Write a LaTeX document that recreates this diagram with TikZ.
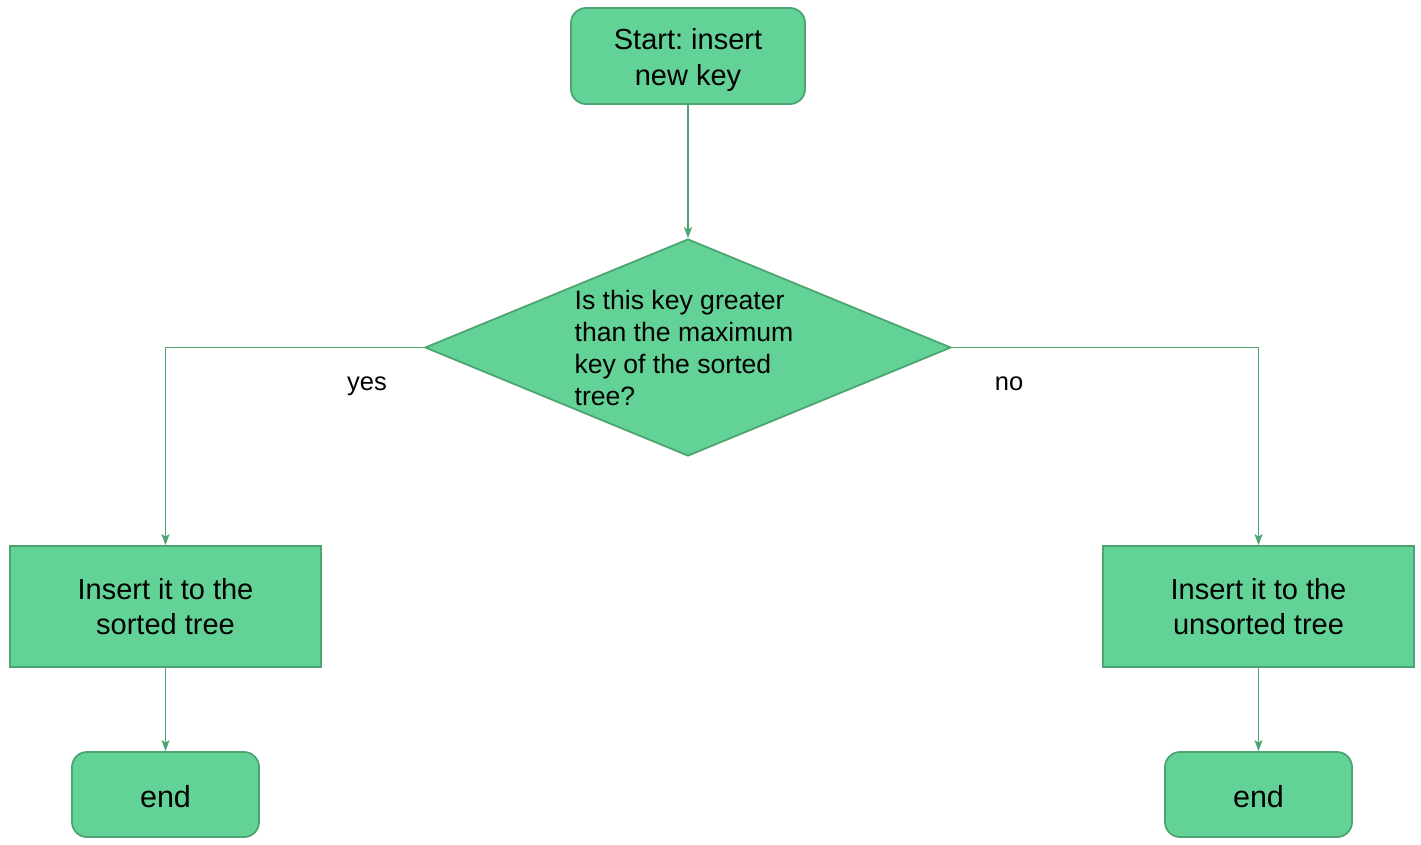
\documentclass[tikz,border=0pt]{standalone}
\usepackage{fontspec}
\setmainfont{Liberation Sans}
\frenchspacing
\usetikzlibrary{shapes.geometric,arrows.meta}
\definecolor{boxfill}{RGB}{99,210,151}
\definecolor{boxline}{RGB}{76,165,113}
\begin{document}
\begin{tikzpicture}[x=1pt,y=-1pt,
  basebox/.style={draw=boxline, fill=boxfill, line width=1.8pt, align=center, inner sep=0pt, font=\fontsize{29}{35.5}\selectfont},
  termbox/.style={basebox, rounded corners=15pt},
  procbox/.style={basebox, minimum width=311pt, minimum height=121pt},
  endbox/.style={termbox, minimum width=187pt, minimum height=85pt},
  boxtext/.style={align=center, inner sep=0pt, font=\fontsize{29}{35.5}\selectfont},
  decision/.style={diamond, draw=boxline, fill=boxfill, line width=1.8pt, inner sep=0pt, minimum width=526pt, minimum height=217pt},
  qtext/.style={align=left, inner sep=0pt, font=\fontsize{26.6}{32}\selectfont},
  lbl/.style={inner sep=0pt, anchor=base, font=\fontsize{25.5}{30}\selectfont},
  conn/.style={draw=boxline, line width=1.6pt, -{Stealth[length=11pt,width=8pt,inset=2.5pt]}}
]
\useasboundingbox (0,0) rectangle (1421,844);
\node[termbox, minimum width=234pt, minimum height=96pt] (start) at (688,56) {};
\node[boxtext] (starttxt) at (688,60) {Start: insert\\new key};
\node[decision] (q) at (688,347.5) {};
\node[qtext] (qt) at (684,348) {Is this key greater\\than the maximum\\key of the sorted\\tree?};
\node[procbox] (sorted) at (165.5,606.5) {Insert it to the\\sorted tree};
\node[procbox] (unsorted) at (1258.5,606.5) {Insert it to the\\unsorted tree};
\node[endbox] (endl) at (165.5,794.5) {};
\node[endbox] (endr) at (1258.5,794.5) {};
\node[boxtext, font=\fontsize{30.5}{36}\selectfont] (endltxt) at (165.5,796.5) {end};
\node[boxtext, font=\fontsize{30.5}{36}\selectfont] (endrtxt) at (1258.5,796.5) {end};
\node[lbl] (yes) at (367,390) {yes};
\node[lbl] (no) at (1009,390) {no};
\draw[conn] (start) -- (q);
\draw[conn] (q.west) -| (sorted.north);
\draw[conn] (q.east) -| (unsorted.north);
\draw[conn] (sorted) -- (endl);
\draw[conn] (unsorted) -- (endr);
\end{tikzpicture}
\end{document}
